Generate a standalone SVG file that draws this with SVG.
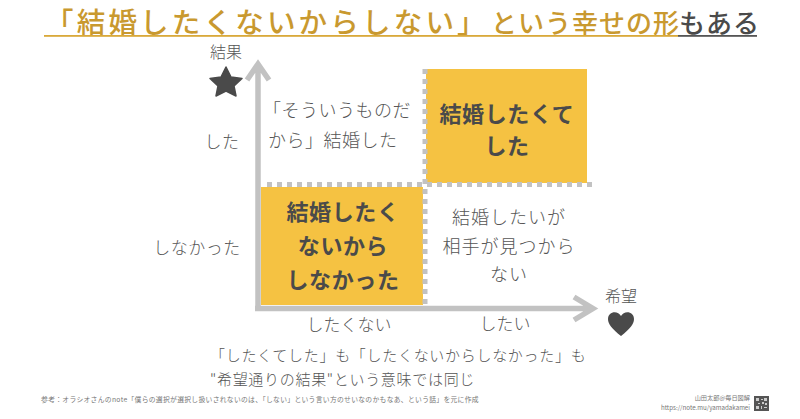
<svg xmlns="http://www.w3.org/2000/svg" width="800" height="419" viewBox="0 0 800 419">
<style>
text{font-family:"Noto Sans CJK JP","Noto Sans",sans-serif;fill:#555;text-anchor:middle}
.l{font-size:18px;font-weight:300;letter-spacing:.5px}
.r{font-size:18px;font-weight:300;letter-spacing:1px}
.a{font-size:16px;font-weight:300}
.x{font-size:17px;font-weight:300}
.b{font-size:22px;font-weight:700;fill:#4a4a4a;letter-spacing:.6px}
.c{font-size:17px;font-weight:300;letter-spacing:.5px}
.n{font-size:15px;font-weight:300;letter-spacing:.7px;text-anchor:start}
.t{fill:#c9992f;text-anchor:start;font-weight:500}
.s{font-size:6.200px;fill:#777;text-anchor:end}
.axis{fill:none;stroke:#c2c2c2;stroke-width:5.500}
.dash{fill:none;stroke:#c2c2c2;stroke-width:5;stroke-dasharray:5 5}
</style>
<g id="title">
<text class="t" x="45" y="33.200" font-size="28.500" letter-spacing="3.200">「結婚したくないからしない」</text>
<text class="t" x="491" y="33" font-size="26" letter-spacing="1">という幸せの形</text>
<text class="t" x="679" y="33" font-size="26" letter-spacing="1" style="fill:#4a4a4a">もある</text>
<rect x="44" y="35" width="634" height="1.800" fill="#d9a93a"/>
<rect x="678" y="35" width="79" height="1.800" fill="#555"/>
</g>
<g id="q-topright"><rect x="426" y="69" width="161" height="114" fill="#f5c242"/>
<text class="b" x="507" y="122">結婚したくて</text><text class="b" x="507" y="154">した</text></g>
<g id="q-bottomleft"><rect x="261" y="187" width="162" height="118" fill="#f5c242"/>
<text class="b" x="343" y="220">結婚したく</text><text class="b" x="343" y="254">ないから</text><text class="b" x="343" y="288">しなかった</text></g>
<g id="q-topleft"><text class="l" style="text-anchor:start" x="263" y="117">「そういうものだ</text><text class="l" style="text-anchor:start" x="268" y="147">から」結婚した</text></g>
<g id="q-bottomright"><text class="r" x="509" y="224">結婚したいが</text><text class="r" x="509" y="253">相手が見つから</text><text class="r" x="509" y="281">ない</text></g>
<g id="connectors">
<path class="axis" d="M258 310V64M247 80L258 64L269 80"/>
<path class="axis" d="M255 308.500H593M574 297L593 308.500L574 320"/>
<path class="dash" d="M267 184.500H592"/>
<path class="dash" d="M425 69V305"/>
</g>
<g id="y-axis">
<text class="a" x="226" y="58">結果</text>
<path d="M226 67L231 77L242 78.500L234 86L236 96L226 91L216 96L218 86L210 78.500L221 77Z" fill="#4a4a4a" stroke="#4a4a4a" stroke-width="1.500" stroke-linejoin="round"/>
<text class="c" x="222" y="148">した</text>
<text class="c" x="197" y="254">しなかった</text>
</g>
<g id="x-axis">
<text class="a" x="621" y="302">希望</text>
<path d="M621 336C612 329 608 324 608 319C608 311 618 310 621 316C624 310 634 311 634 319C634 324 630 329 621 336Z" fill="#4a4a4a"/>
<text class="x" x="349" y="331">したくない</text>
<text class="x" x="505" y="330">したい</text>
</g>
<g id="caption">
<text class="n" x="210" y="361">「したくてした」も「したくないからしなかった」も</text>
<text class="n" x="210" y="385">"希望通りの結果"という意味では同じ</text>
<text x="260" y="402" font-size="6.800" style="letter-spacing:.3px;fill:#777">参考：オラシオさんのnote「僕らの選択が選択し扱いされないのは、「しない」という言い方のせいなのかもなあ、という話」を元に作成</text>
</g>
<g id="credit">
<text class="s" x="750" y="400">山田太郎@毎日図解</text>
<text class="s" x="750" y="410">https://note.mu/yamadakamei</text>
<rect x="754" y="396" width="15" height="15" fill="#555"/>
<path d="M756 398h3v3h-3zM764 398h3v3h-3zM756 406h3v3h-3zM761 399h2v1h-2zM762 402h2v2h-2zM758 403h2v1h-2zM765 403h2v2h-2zM761 406h1v3h-1zM764 407h3v1h-3z" fill="#ccc"/>
</g>
</svg>
